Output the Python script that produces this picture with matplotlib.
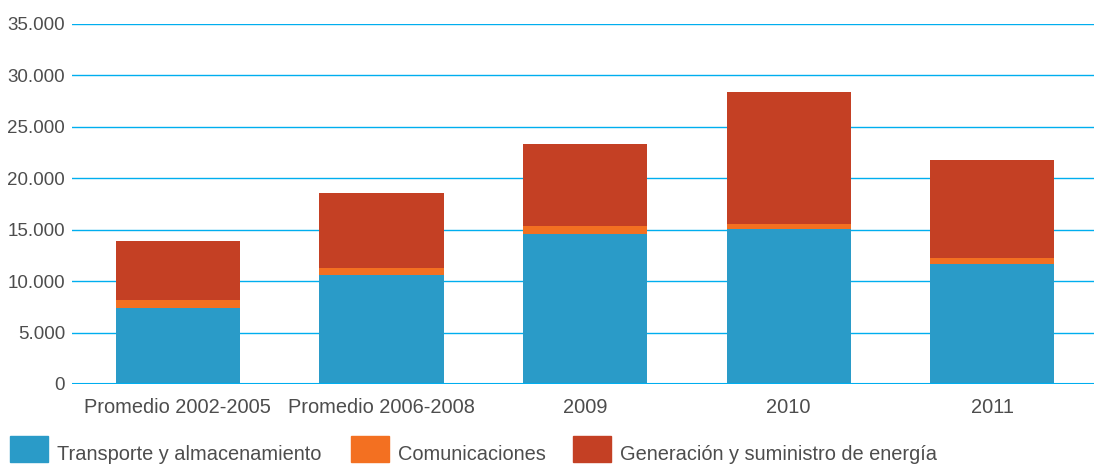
import matplotlib.pyplot as plt
import matplotlib.patches as mpatches
from matplotlib.ticker import FuncFormatter
import numpy as np

# datos (estimados de la imagen)
categorias = ['Promedio 2002-2005', 'Promedio 2006-2008', '2009', '2010', '2011']
transporte = [7400, 10550, 14550, 15050, 11650]
comunicaciones = [750, 700, 790, 480, 580]
energia = [5730, 7290, 7960, 12820, 9520]

series = ['Transporte y almacenamiento', 'Comunicaciones', 'Generación y suministro de energía']
colores = ['#2A9BC8', '#F37021', '#C44024']

plt.rcParams['font.family'] = ['Liberation Sans', 'DejaVu Sans']

fig = plt.figure(figsize=(10.94, 4.67), dpi=100)
ax = fig.add_axes([72 / 1094, 83 / 467, 1 - 72 / 1094, 360 / 467])

x = np.arange(len(categorias))
ancho = 0.61
base = np.zeros(len(categorias))
for vals, col in zip([transporte, comunicaciones, energia], colores):
    ax.bar(x, vals, ancho, bottom=base, color=col, zorder=3)
    base = base + np.array(vals)

ax.set_ylim(0, 35000)
ax.set_xlim(-0.52, 4.5)
ax.set_yticks(np.arange(0, 35001, 5000))
ax.yaxis.set_major_formatter(FuncFormatter(lambda v, p: f'{int(v):,}'.replace(',', '.')))
ax.grid(axis='y', color='#00AEEF', linewidth=1.0, zorder=0)
ax.set_axisbelow(True)
for s in ax.spines.values():
    s.set_visible(False)
ax.axhline(0, color='#00AEEF', linewidth=1.5, zorder=4)
ax.tick_params(length=0, colors='#4D4D4D')
ax.tick_params(axis='y', pad=5, labelsize=13.5)
ax.tick_params(axis='x', pad=10, labelsize=14.4)
ax.set_xticks(x)
ax.set_xticklabels(categorias)

# leyenda
pos_cuadro = [10, 351, 573]
for px, col, nom in zip(pos_cuadro, colores, series):
    fig.patches.append(mpatches.Rectangle((px / 1094, 5 / 467), 38 / 1094, 26 / 467,
                                          transform=fig.transFigure, color=col))
    fig.text((px + 47) / 1094, 12 / 467, nom, fontsize=14.4, color='#4D4D4D', va='center')

fig.savefig('out.png', dpi=100)
